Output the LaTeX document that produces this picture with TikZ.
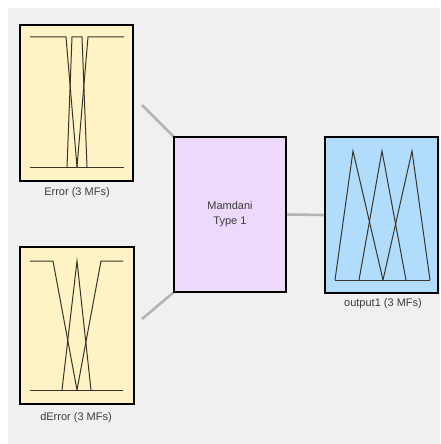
\documentclass[tikz,border=0pt]{standalone}
\usepackage{fontspec}
\setmainfont{Liberation Sans}
\definecolor{canvas}{RGB}{240,240,240}
\definecolor{varfill}{RGB}{255,242,196}
\definecolor{rulefill}{RGB}{236,217,252}
\definecolor{outfill}{RGB}{178,220,252}
\definecolor{mfline}{RGB}{55,53,42}
\definecolor{wirecol}{RGB}{180,180,180}
\definecolor{captxt}{RGB}{60,60,60}
\pgfdeclarelayer{bg}
\pgfsetlayers{bg,main}
\begin{document}
\begin{tikzpicture}[x=1pt,y=-1pt,
  panel/.style={draw=black,line width=2pt,inner sep=0pt,outer sep=0pt,anchor=center},
  varpanel/.style={panel,fill=varfill},
  rulepanel/.style={panel,fill=rulefill},
  outpanel/.style={panel,fill=outfill},
  mf/.style={draw=mfline,line width=1pt,line join=miter},
  wire/.style={draw=wirecol,line width=2.6pt},
  caption/.style={font=\fontsize{11}{12}\selectfont,text=captxt,inner sep=0pt}]
\useasboundingbox (0,0) rectangle (440,444);

% panels
\node[varpanel,minimum width=113pt,minimum height=156pt] (err) at (76.5,103) {};
\node[varpanel,minimum width=114pt,minimum height=157pt] (derr) at (77,325.5) {};
\node[rulepanel,minimum width=112pt,minimum height=155pt,align=center,
  font=\fontsize{11}{15}\selectfont,text=captxt] (mam) at (230,214.5) {Mamdani\\Type 1};
\node[outpanel,minimum width=113pt,minimum height=156pt] (out) at (381.5,215) {};

% canvas and connectors, behind the panels
\coordinate (w1) at (142,105);
\coordinate (w2) at (142,319);
\begin{pgfonlayer}{bg}
\fill[canvas] (8,8) rectangle (440,444);
\draw[wire] (w1) -- (mam.north west);
\draw[wire] (w2) -- (mam.south west);
\draw[wire] (mam.east) -- (out.west);
\end{pgfonlayer}

% Error membership functions
\draw[mf] (30,167) -- (124,167);
\draw[mf] (30,37) -- (66,37) -- (77,167);
\draw[mf] (67,167) -- (72,37) -- (82,37) -- (87,167);
\draw[mf] (77,167) -- (88,37) -- (124,37);

% dError membership functions
\draw[mf] (30,390) -- (123,390);
\draw[mf] (30,261) -- (53,261) -- (77,390);
\draw[mf] (62,390) -- (77,261) -- (91,390);
\draw[mf] (77,390) -- (101,261) -- (123,261);

% output1 membership functions
\draw[mf] (335,280) -- (430,280);
\draw[mf] (335,280) -- (353,151) -- (383,280);
\draw[mf] (359,280) -- (382,151) -- (406,280);
\draw[mf] (383,280) -- (412,151) -- (430,280);

% captions
\node[caption] (errlbl) at (77,193) {Error (3 MFs)};
\node[caption] (derrlbl) at (76,418) {dError (3 MFs)};
\node[caption] (outlbl) at (383,304) {output1 (3 MFs)};
\end{tikzpicture}
\end{document}
